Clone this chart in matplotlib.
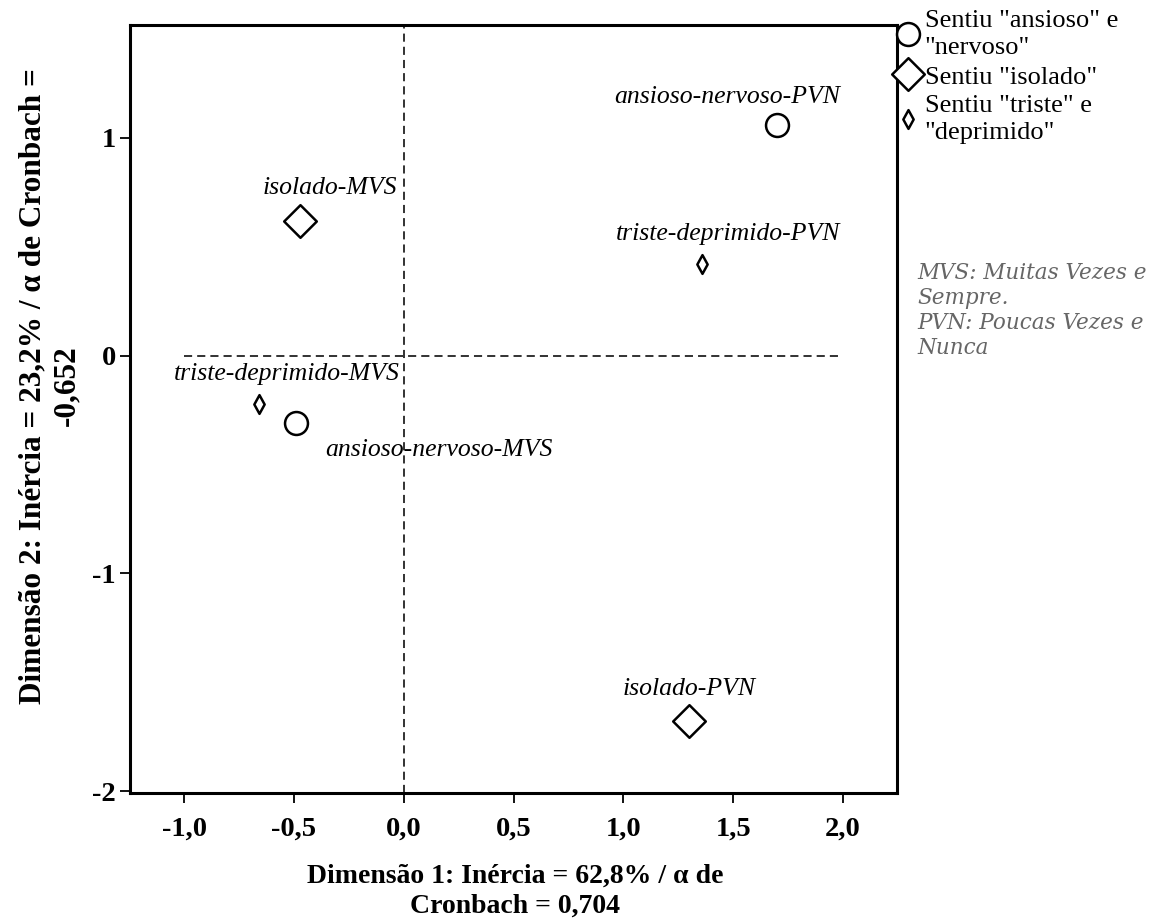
import matplotlib
matplotlib.use('Agg')
import matplotlib.pyplot as plt
from matplotlib.path import Path
from matplotlib.ticker import FixedLocator, FixedFormatter

# ---- data ----
ansioso_labels = ['ansioso-nervoso-MVS', 'ansioso-nervoso-PVN']
ansioso_dim1 = [-0.49, 1.70]
ansioso_dim2 = [-0.31, 1.06]

isolado_labels = ['isolado-MVS', 'isolado-PVN']
isolado_dim1 = [-0.47, 1.30]
isolado_dim2 = [0.62, -1.68]

triste_labels = ['triste-deprimido-MVS', 'triste-deprimido-PVN']
triste_dim1 = [-0.66, 1.36]
triste_dim2 = [-0.22, 0.42]

legend_labels = ['Sentiu "ansioso" e\n"nervoso"', 'Sentiu "isolado"', 'Sentiu "triste" e\n"deprimido"']

x_ticks = [-1.0, -0.5, 0.0, 0.5, 1.0, 1.5, 2.0]
x_ticklabels = ['-1,0', '-0,5', '0,0', '0,5', '1,0', '1,5', '2,0']
y_ticks = [-2, -1, 0, 1]
y_ticklabels = ['-2', '-1', '0', '1']

xlabel = 'Dimensão 1: Inércia = 62,8% / α de\nCronbach = 0,704'
ylabel = 'Dimensão 2: Inércia = 23,2% / α de Cronbach =\n-0,652'
note = 'MVS: Muitas Vezes e\nSempre.\nPVN: Poucas Vezes e\nNunca'

# ---- style ----
plt.rcParams['font.family'] = ['Liberation Serif', 'DejaVu Serif']

W, H = 1159, 924
fig = plt.figure(figsize=(W / 100, H / 100), dpi=100)
ax = fig.add_axes([130 / W, 131 / H, 767 / W, 768 / H])
ax.set_xlim(-1.246, 2.246)
ax.set_ylim(-2.009, 1.519)

# reference lines
dash = (0, (4.5, 2.8))
ax.axvline(0, color='#222222', lw=1.3, ls=dash, zorder=1)
ax.hlines(0, -1.0, 2.0, color='#222222', lw=1.3, ls=dash, zorder=1)

big_diamond = Path([(0, 1), (1, 0), (0, -1), (-1, 0), (0, 1)],
                   [Path.MOVETO, Path.LINETO, Path.LINETO, Path.LINETO, Path.CLOSEPOLY])
thin_diamond = Path([(0, 1), (0.55, 0), (0, -1), (-0.55, 0), (0, 1)],
                    [Path.MOVETO, Path.LINETO, Path.LINETO, Path.LINETO, Path.CLOSEPOLY])

h1, = ax.plot(ansioso_dim1, ansioso_dim2, ls='none', marker='o', ms=16.5,
              mfc='white', mec='black', mew=1.8, zorder=3)
h2, = ax.plot(isolado_dim1, isolado_dim2, ls='none', marker=big_diamond, ms=23.5,
              mfc='white', mec='black', mew=1.8, zorder=3)
h3, = ax.plot(triste_dim1, triste_dim2, ls='none', marker=thin_diamond, ms=13.5,
              mfc='white', mec='black', mew=1.8, zorder=3)

# point labels (offsets in pixels)
lab_font = dict(fontsize=18.5, fontstyle='italic', ha='center', va='center', zorder=4)
offsets_ansioso = [(143, -27), (-50, 28)]
offsets_isolado = [(29, 33), (0, 32)]
offsets_triste = [(28, 30), (26, 30)]
for labels, xs, ys, offs in [(ansioso_labels, ansioso_dim1, ansioso_dim2, offsets_ansioso),
                             (isolado_labels, isolado_dim1, isolado_dim2, offsets_isolado),
                             (triste_labels, triste_dim1, triste_dim2, offsets_triste)]:
    for lab, xv, yv, off in zip(labels, xs, ys, offs):
        ax.annotate(lab, (xv, yv), xytext=off, textcoords='offset pixels', **lab_font)

# axes styling
for sp in ax.spines.values():
    sp.set_linewidth(2.2)
ax.xaxis.set_major_locator(FixedLocator(x_ticks))
ax.xaxis.set_major_formatter(FixedFormatter(x_ticklabels))
ax.yaxis.set_major_locator(FixedLocator(y_ticks))
ax.yaxis.set_major_formatter(FixedFormatter(y_ticklabels))
ax.tick_params(direction='out', length=7, width=1.3, labelsize=20.5)
ax.tick_params(axis='x', pad=10)
ax.tick_params(axis='y', pad=3)
for t in ax.get_xticklabels() + ax.get_yticklabels():
    t.set_fontweight('bold')

ax.set_xlabel(xlabel, fontsize=20, fontweight='bold', linespacing=1.25)
ax.xaxis.set_label_coords(0.502, -0.092)
ax.set_ylabel(ylabel, fontsize=22.5, fontweight='bold', linespacing=1.22)
ax.yaxis.set_label_coords(-0.064, 0.53)

# legend
leg = fig.legend([h1, h2, h3], legend_labels, loc='upper left',
                 bbox_to_anchor=(897 / W, 1 - 10 / H), frameon=False,
                 fontsize=19, handlelength=0.85, handletextpad=0.2,
                 borderpad=0, borderaxespad=0, labelspacing=0.24,
                 numpoints=1, markerscale=1.0)
for t in leg.get_texts():
    t.set_linespacing(1.28)

# note
fig.text(917 / W, 1 - 262 / H, note, fontsize=15.5, fontstyle='italic',
         family=['DejaVu Serif'], color='#666666', va='top', ha='left', linespacing=1.17)

fig.savefig('out.png', dpi=100, facecolor='white')
